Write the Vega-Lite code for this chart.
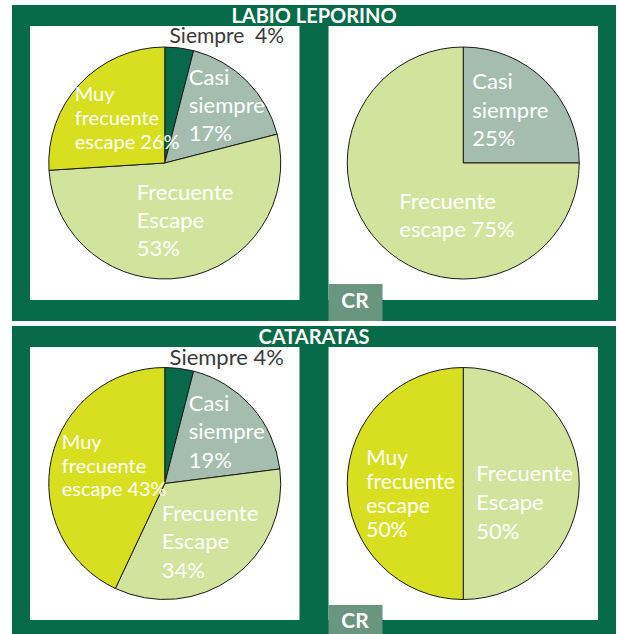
{
  "$schema": "https://vega.github.io/schema/vega-lite/v6.json",
  "background": "white",
  "padding": {"left": 12, "top": 4, "right": 1, "bottom": 0},
  "spacing": 4,
  "config": {"view": {"fill": "#076A48", "stroke": null}, "font": "Lato"},
  "datasets": {
    "slices": [
      {"disease": "LABIO LEPORINO", "panel": "General", "cat": "Siempre", "orden": 1, "pct": 4, "label": "Siempre\u00a0 4%"},
      {"disease": "LABIO LEPORINO", "panel": "General", "cat": "Casi siempre", "orden": 2, "pct": 17, "label": ["Casi", "siempre", "17%"]},
      {"disease": "LABIO LEPORINO", "panel": "General", "cat": "Frecuente escape", "orden": 3, "pct": 53, "label": ["Frecuente", "Escape", "53%"]},
      {"disease": "LABIO LEPORINO", "panel": "General", "cat": "Muy frecuente escape", "orden": 4, "pct": 26, "label": ["Muy", "frecuente", "escape 26%"]},
      {"disease": "LABIO LEPORINO", "panel": "CR", "cat": "Casi siempre", "orden": 2, "pct": 25, "label": ["Casi", "siempre", "25%"]},
      {"disease": "LABIO LEPORINO", "panel": "CR", "cat": "Frecuente escape", "orden": 3, "pct": 75, "label": ["Frecuente", "escape 75%"]},
      {"disease": "CATARATAS", "panel": "General", "cat": "Siempre", "orden": 1, "pct": 4, "label": "Siempre 4%"},
      {"disease": "CATARATAS", "panel": "General", "cat": "Casi siempre", "orden": 2, "pct": 19, "label": ["Casi", "siempre", "19%"]},
      {"disease": "CATARATAS", "panel": "General", "cat": "Frecuente escape", "orden": 3, "pct": 34, "label": ["Frecuente", "Escape", "34%"]},
      {"disease": "CATARATAS", "panel": "General", "cat": "Muy frecuente escape", "orden": 4, "pct": 43, "label": ["Muy", "frecuente", "escape 43%"]},
      {"disease": "CATARATAS", "panel": "CR", "cat": "Frecuente escape", "orden": 3, "pct": 50, "label": ["Frecuente", "Escape", "50%"]},
      {"disease": "CATARATAS", "panel": "CR", "cat": "Muy frecuente escape", "orden": 4, "pct": 50, "label": ["Muy", "frecuente", "escape", "50%"]}
    ]
  },
  "vconcat": [
    {
      "width": 604,
      "height": 316,
      "data": {"name": "slices"},
      "transform": [{"filter": {"field": "disease", "equal": "LABIO LEPORINO"}}],
      "encoding": {
        "x": {"field": "panel", "type": "nominal", "axis": null, "scale": {"type": "band", "domain": ["General", "CR"], "paddingInner": 0.0973, "paddingOuter": 0.0604}},
        "y": {"field": "disease", "type": "nominal", "axis": null, "scale": {"type": "band", "paddingInner": 0, "paddingOuter": 0.0766}}
      },
      "layer": [
        {"transform": [{"aggregate": [{"op": "count", "as": "n"}], "groupby": ["panel", "disease"]}], "mark": {"type": "rect", "fill": "white"}},
        {"transform": [{"filter": {"field": "panel", "equal": "General"}}, {"aggregate": [{"op": "count", "as": "n"}], "groupby": ["panel"]}],
         "mark": {"type": "rule", "color": "#5FA386", "strokeWidth": 1},
         "encoding": {"x": {"field": "panel", "type": "nominal", "axis": null, "bandPosition": 1.0486}, "y": {"value": 0}, "y2": {"value": {"expr": "height"}}}},
        {"transform": [{"aggregate": [{"op": "count", "as": "n"}], "groupby": ["disease"]}],
         "mark": {"type": "text", "align": "center", "baseline": "alphabetic", "fontSize": 20, "fontWeight": "bold", "fill": "white", "font": "Lato"},
         "encoding": {"x": {"value": {"expr": "width/2"}}, "y": {"field": "disease", "type": "nominal", "axis": null, "bandPosition": -0.011}, "text": {"field": "disease", "type": "nominal"}}},
        {"transform": [{"filter": {"field": "panel", "equal": "General"}}],
         "mark": {"type": "arc", "outerRadius": 116, "stroke": "#1a1a1a", "strokeWidth": 1},
         "encoding": {"theta": {"field": "pct", "type": "quantitative", "stack": true}, "order": {"field": "orden", "type": "quantitative"},
           "color": {"field": "cat", "type": "nominal", "legend": null, "scale": {"domain": ["Siempre", "Casi siempre", "Frecuente escape", "Muy frecuente escape"], "range": ["#08694A", "#A5BDAF", "#D2E39D", "#D8DF21"]}}}},
        {"transform": [{"filter": {"field": "panel", "equal": "CR"}}],
         "mark": {"type": "arc", "outerRadius": 116, "stroke": "#1a1a1a", "strokeWidth": 1},
         "encoding": {"theta": {"field": "pct", "type": "quantitative", "stack": true}, "order": {"field": "orden", "type": "quantitative"},
           "color": {"field": "cat", "type": "nominal", "legend": null}}},
        {"transform": [{"filter": {"field": "panel", "equal": "General"}}],
         "mark": {"type": "text", "align": "left", "baseline": "middle", "radius": 134, "dx": -12, "dy": 7, "fontSize": 21, "fill": "#3a3a3a", "font": "Lato"},
         "encoding": {"theta": {"field": "pct", "type": "quantitative", "stack": true}, "order": {"field": "orden", "type": "quantitative"}, "detail": {"field": "cat", "type": "nominal"},
           "text": {"condition": {"test": "datum.cat === 'Siempre'", "field": "label", "type": "nominal"}, "value": ""}}},
        {"transform": [{"filter": {"field": "panel", "equal": "General"}}],
         "mark": {"type": "text", "align": "left", "baseline": "middle", "radius": 84.5, "dx": -35.7, "dy": -25.3, "fontSize": 22, "lineHeight": 28, "fill": "white", "font": "Lato"},
         "encoding": {"theta": {"field": "pct", "type": "quantitative", "stack": true}, "order": {"field": "orden", "type": "quantitative"}, "detail": {"field": "cat", "type": "nominal"},
           "text": {"condition": {"test": "datum.cat === 'Casi siempre'", "field": "label", "type": "nominal"}, "value": ""}}},
        {"transform": [{"filter": {"field": "panel", "equal": "General"}}],
         "mark": {"type": "text", "align": "left", "baseline": "middle", "radius": 60.3, "dx": -37.4, "dy": -29.6, "fontSize": 22, "lineHeight": 28, "fill": "white", "font": "Lato"},
         "encoding": {"theta": {"field": "pct", "type": "quantitative", "stack": true}, "order": {"field": "orden", "type": "quantitative"}, "detail": {"field": "cat", "type": "nominal"},
           "text": {"condition": {"test": "datum.cat === 'Frecuente escape'", "field": "label", "type": "nominal"}, "value": ""}}},
        {"transform": [{"filter": {"field": "panel", "equal": "General"}}],
         "mark": {"type": "text", "align": "left", "baseline": "middle", "radius": 59.3, "dx": -46.8, "dy": -27.4, "fontSize": 20, "lineHeight": 24, "fill": "white", "font": "Lato"},
         "encoding": {"theta": {"field": "pct", "type": "quantitative", "stack": true}, "order": {"field": "orden", "type": "quantitative"}, "detail": {"field": "cat", "type": "nominal"},
           "text": {"condition": {"test": "datum.cat === 'Muy frecuente escape'", "field": "label", "type": "nominal"}, "value": ""}}},
        {"transform": [{"filter": {"field": "panel", "equal": "CR"}}],
         "mark": {"type": "text", "align": "left", "baseline": "middle", "radius": 70.2, "dx": -40.6, "dy": -31.2, "fontSize": 22, "lineHeight": 28.5, "fill": "white", "font": "Lato"},
         "encoding": {"theta": {"field": "pct", "type": "quantitative", "stack": true}, "order": {"field": "orden", "type": "quantitative"}, "detail": {"field": "cat", "type": "nominal"},
           "text": {"condition": {"test": "datum.cat === 'Casi siempre'", "field": "label", "type": "nominal"}, "value": ""}}},
        {"transform": [{"filter": {"field": "panel", "equal": "CR"}}],
         "mark": {"type": "text", "align": "left", "baseline": "middle", "radius": 43.1, "dx": -33.5, "dy": 8.5, "fontSize": 22, "lineHeight": 28, "fill": "white", "font": "Lato"},
         "encoding": {"theta": {"field": "pct", "type": "quantitative", "stack": true}, "order": {"field": "orden", "type": "quantitative"}, "detail": {"field": "cat", "type": "nominal"},
           "text": {"condition": {"test": "datum.cat === 'Frecuente escape'", "field": "label", "type": "nominal"}, "value": ""}}},
        {"transform": [{"filter": {"field": "panel", "equal": "CR"}}, {"aggregate": [{"op": "count", "as": "n"}], "groupby": ["panel", "disease"]}],
         "mark": {"type": "rect", "fill": "#6A957F"},
         "encoding": {
           "x": {"field": "panel", "type": "nominal", "axis": null, "bandPosition": 0},
           "x2": {"field": "panel", "bandPosition": 0.2004},
           "y": {"field": "disease", "type": "nominal", "axis": null, "bandPosition": 0.9416},
           "y2": {"field": "disease", "bandPosition": 1.0766}}},
        {"transform": [{"filter": {"field": "panel", "equal": "CR"}}, {"aggregate": [{"op": "count", "as": "n"}], "groupby": ["panel", "disease"]}],
         "mark": {"type": "text", "align": "center", "baseline": "middle", "fontSize": 21, "fontWeight": "bold", "fill": "white", "font": "Lato"},
         "encoding": {
           "x": {"field": "panel", "type": "nominal", "axis": null, "bandPosition": 0.0984},
           "y": {"field": "disease", "type": "nominal", "axis": null, "bandPosition": 1.009},
           "text": {"field": "panel", "type": "nominal"}}}
      ]
    },
    {
      "width": 604,
      "height": 310,
      "data": {"name": "slices"},
      "transform": [{"filter": {"field": "disease", "equal": "CATARATAS"}}],
      "encoding": {
        "x": {"field": "panel", "type": "nominal", "axis": null, "scale": {"type": "band", "domain": ["General", "CR"], "paddingInner": 0.0973, "paddingOuter": 0.0604}},
        "y": {"field": "disease", "type": "nominal", "axis": null, "scale": {"type": "band", "paddingInner": 0, "paddingOuter": 0.0678, "align": 0.5676}}
      },
      "layer": [
        {"transform": [{"aggregate": [{"op": "count", "as": "n"}], "groupby": ["panel", "disease"]}], "mark": {"type": "rect", "fill": "white"}},
        {"transform": [{"filter": {"field": "panel", "equal": "General"}}, {"aggregate": [{"op": "count", "as": "n"}], "groupby": ["panel"]}],
         "mark": {"type": "rule", "color": "#5FA386", "strokeWidth": 1},
         "encoding": {"x": {"field": "panel", "type": "nominal", "axis": null, "bandPosition": 1.0486}, "y": {"value": 0}, "y2": {"value": {"expr": "height"}}}},
        {"transform": [{"aggregate": [{"op": "count", "as": "n"}], "groupby": ["disease"]}],
         "mark": {"type": "text", "align": "center", "baseline": "alphabetic", "fontSize": 20, "fontWeight": "bold", "fill": "white", "font": "Lato"},
         "encoding": {"x": {"value": {"expr": "width/2"}}, "y": {"field": "disease", "type": "nominal", "axis": null, "bandPosition": -0.0099}, "text": {"field": "disease", "type": "nominal"}}},
        {"transform": [{"filter": {"field": "panel", "equal": "General"}}],
         "mark": {"type": "arc", "outerRadius": 116, "stroke": "#1a1a1a", "strokeWidth": 1},
         "encoding": {"theta": {"field": "pct", "type": "quantitative", "stack": true}, "order": {"field": "orden", "type": "quantitative"},
           "color": {"field": "cat", "type": "nominal", "legend": null, "scale": {"domain": ["Siempre", "Casi siempre", "Frecuente escape", "Muy frecuente escape"], "range": ["#08694A", "#A5BDAF", "#D2E39D", "#D8DF21"]}}}},
        {"transform": [{"filter": {"field": "panel", "equal": "CR"}}],
         "mark": {"type": "arc", "outerRadius": 116, "stroke": "#1a1a1a", "strokeWidth": 1},
         "encoding": {"theta": {"field": "pct", "type": "quantitative", "stack": true}, "order": {"field": "orden", "type": "quantitative"},
           "color": {"field": "cat", "type": "nominal", "legend": null}}},
        {"transform": [{"filter": {"field": "panel", "equal": "General"}}],
         "mark": {"type": "text", "align": "left", "baseline": "middle", "radius": 134, "dx": -12, "dy": 7, "fontSize": 22, "fill": "#3a3a3a", "font": "Lato"},
         "encoding": {"theta": {"field": "pct", "type": "quantitative", "stack": true}, "order": {"field": "orden", "type": "quantitative"}, "detail": {"field": "cat", "type": "nominal"},
           "text": {"condition": {"test": "datum.cat === 'Siempre'", "field": "label", "type": "nominal"}, "value": ""}}},
        {"transform": [{"filter": {"field": "panel", "equal": "General"}}],
         "mark": {"type": "text", "align": "left", "baseline": "middle", "radius": 80.9, "dx": -36.7, "dy": -26.4, "fontSize": 22, "lineHeight": 28.5, "fill": "white", "font": "Lato"},
         "encoding": {"theta": {"field": "pct", "type": "quantitative", "stack": true}, "order": {"field": "orden", "type": "quantitative"}, "detail": {"field": "cat", "type": "nominal"},
           "text": {"condition": {"test": "datum.cat === 'Casi siempre'", "field": "label", "type": "nominal"}, "value": ""}}},
        {"transform": [{"filter": {"field": "panel", "equal": "General"}}],
         "mark": {"type": "text", "align": "left", "baseline": "middle", "radius": 73.9, "dx": -46.5, "dy": -29.7, "fontSize": 22, "lineHeight": 28.5, "fill": "white", "font": "Lato"},
         "encoding": {"theta": {"field": "pct", "type": "quantitative", "stack": true}, "order": {"field": "orden", "type": "quantitative"}, "detail": {"field": "cat", "type": "nominal"},
           "text": {"condition": {"test": "datum.cat === 'Frecuente escape'", "field": "label", "type": "nominal"}, "value": ""}}},
        {"transform": [{"filter": {"field": "panel", "equal": "General"}}],
         "mark": {"type": "text", "align": "left", "baseline": "middle", "radius": 55.4, "dx": -48.9, "dy": -28.1, "fontSize": 20, "lineHeight": 23.5, "fill": "white", "font": "Lato"},
         "encoding": {"theta": {"field": "pct", "type": "quantitative", "stack": true}, "order": {"field": "orden", "type": "quantitative"}, "detail": {"field": "cat", "type": "nominal"},
           "text": {"condition": {"test": "datum.cat === 'Muy frecuente escape'", "field": "label", "type": "nominal"}, "value": ""}}},
        {"transform": [{"filter": {"field": "panel", "equal": "CR"}}],
         "mark": {"type": "text", "align": "left", "baseline": "middle", "radius": 61, "dx": -48, "dy": -9.2, "fontSize": 22, "lineHeight": 28.7, "fill": "white", "font": "Lato"},
         "encoding": {"theta": {"field": "pct", "type": "quantitative", "stack": true}, "order": {"field": "orden", "type": "quantitative"}, "detail": {"field": "cat", "type": "nominal"},
           "text": {"condition": {"test": "datum.cat === 'Frecuente escape'", "field": "label", "type": "nominal"}, "value": ""}}},
        {"transform": [{"filter": {"field": "panel", "equal": "CR"}}],
         "mark": {"type": "text", "align": "left", "baseline": "middle", "radius": 51, "dx": -46, "dy": -24.9, "fontSize": 21, "lineHeight": 24, "fill": "white", "font": "Lato"},
         "encoding": {"theta": {"field": "pct", "type": "quantitative", "stack": true}, "order": {"field": "orden", "type": "quantitative"}, "detail": {"field": "cat", "type": "nominal"},
           "text": {"condition": {"test": "datum.cat === 'Muy frecuente escape'", "field": "label", "type": "nominal"}, "value": ""}}},
        {"transform": [{"filter": {"field": "panel", "equal": "CR"}}, {"aggregate": [{"op": "count", "as": "n"}], "groupby": ["panel", "disease"]}],
         "mark": {"type": "rect", "fill": "#6A957F"},
         "encoding": {
           "x": {"field": "panel", "type": "nominal", "axis": null, "bandPosition": 0},
           "x2": {"field": "panel", "bandPosition": 0.2004},
           "y": {"field": "disease", "type": "nominal", "axis": null, "bandPosition": 0.945},
           "y2": {"field": "disease", "bandPosition": 1.0586}}},
        {"transform": [{"filter": {"field": "panel", "equal": "CR"}}, {"aggregate": [{"op": "count", "as": "n"}], "groupby": ["panel", "disease"]}],
         "mark": {"type": "text", "align": "center", "baseline": "middle", "fontSize": 21, "fontWeight": "bold", "fill": "white", "font": "Lato"},
         "encoding": {
           "x": {"field": "panel", "type": "nominal", "axis": null, "bandPosition": 0.0984},
           "y": {"field": "disease", "type": "nominal", "axis": null, "bandPosition": 1.007},
           "text": {"field": "panel", "type": "nominal"}}}
      ]
    }
  ]
}
